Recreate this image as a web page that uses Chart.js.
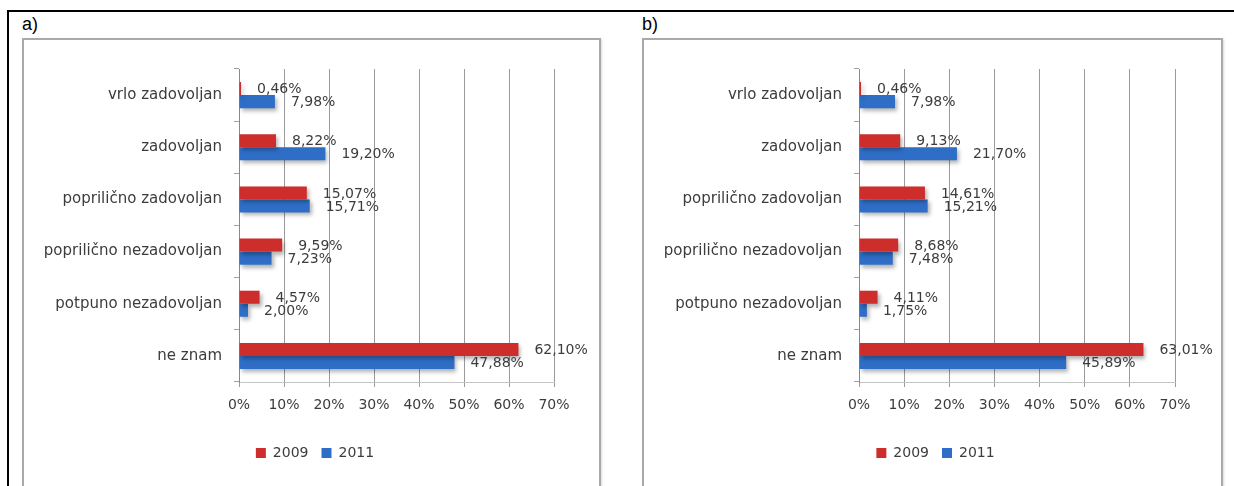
<!DOCTYPE html>
<html lang="hr">
<head>
    <meta charset="UTF-8">
    <title>Zadovoljstvo 2009 / 2011</title>
    <script src="https://cdn.jsdelivr.net/npm/chart.js"></script>
    <style>
        body {
            margin: 0;
            width: 1234px;
            height: 486px;
            background: #fff;
            position: relative;
            overflow: hidden;
            font-family: "Liberation Sans", Arial, sans-serif;
        }

        /* black frame: top and left edge only */
        .frame {
            position: absolute;
            left: 7px;
            top: 10px;
            width: 1240px;
            height: 490px;
            border-top: 2px solid #000;
            border-left: 2px solid #000;
        }

        .tag {
            position: absolute;
            top: 14px;
            font-size: 18px;
            color: #000;
        }

        .panel {
            position: absolute;
            top: 38px;
            height: 460px;
            border: 2px solid #a9a9a9;
            box-shadow: 1px 1px 2px rgba(0, 0, 0, 0.15);
            background: #fff;
            box-sizing: border-box;
        }

        canvas {
            position: absolute;
            top: 38px;
        }
    </style>
</head>
<body>
    <div class="frame"></div>
    <div class="tag" style="left: 22px;">a)</div>
    <div class="tag" style="left: 642px;">b)</div>

    <div class="panel" style="left: 22px; width: 579px;"></div>
    <div class="panel" style="left: 642px; width: 581px;"></div>

    <canvas id="chartA" width="579" height="448" style="left: 22px;"></canvas>
    <canvas id="chartB" width="580" height="448" style="left: 642px;"></canvas>

    <script>
        const categories = [
            "vrlo zadovoljan",
            "zadovoljan",
            "poprilično zadovoljan",
            "poprilično nezadovoljan",
            "potpuno nezadovoljan",
            "ne znam"
        ];
        const seriesNames = ["2009", "2011"];

        // panel a)
        const a2009 = [0.46, 8.22, 15.07, 9.59, 4.57, 62.10];
        const a2011 = [7.98, 19.20, 15.71, 7.23, 2.00, 47.88];

        // panel b)
        const b2009 = [0.46, 9.13, 14.61, 8.68, 4.11, 63.01];
        const b2011 = [7.98, 21.70, 15.21, 7.48, 1.75, 45.89];

        const xTicks = [0, 10, 20, 30, 40, 50, 60, 70];

        const RED = "#cd2d2b";
        const BLUE = "#2f6ec7";
        const TEXT = "#3c3c3c";
        const FONT = "DejaVu Sans";

        // soft shadow under bars, like the Excel original
        const barShadow = {
            id: "barShadow",
            beforeDatasetsDraw(chart) {
                const ctx = chart.ctx;
                ctx.save();
                ctx.shadowColor = "rgba(0, 0, 0, 0.3)";
                ctx.shadowOffsetX = 2;
                ctx.shadowOffsetY = 3;
                ctx.shadowBlur = 4;
            },
            afterDatasetsDraw(chart) {
                chart.ctx.restore();
            }
        };

        // value labels at the end of every bar
        const valueLabels = {
            id: "valueLabels",
            afterDatasetsDraw(chart) {
                const ctx = chart.ctx;
                ctx.save();
                ctx.font = "14px " + FONT;
                ctx.fillStyle = TEXT;
                ctx.textAlign = "left";
                ctx.textBaseline = "middle";
                chart.data.datasets.forEach((ds, i) => {
                    chart.getDatasetMeta(i).data.forEach((bar, j) => {
                        const txt = ds.data[j].toFixed(2).replace(".", ",") + "%";
                        ctx.fillText(txt, bar.x + 16, bar.y + 1);
                    });
                });
                ctx.restore();
            }
        };

        // the legend sits a bit right of the canvas centre in the original
        const legendShift = {
            id: "legendShift",
            afterLayout(chart) {
                const lg = chart.legend;
                lg.left += 27;
                lg.right += 27;
            }
        };

        function makeChart(id, d2009, d2011) {
            const ctx = document.getElementById(id).getContext("2d");
            return new Chart(ctx, {
                type: "bar",
                data: {
                    labels: categories,
                    datasets: [
                        { label: seriesNames[0], data: d2009, backgroundColor: RED },
                        { label: seriesNames[1], data: d2011, backgroundColor: BLUE }
                    ]
                },
                options: {
                    indexAxis: "y",
                    responsive: false,
                    animation: false,
                    devicePixelRatio: 1,
                    categoryPercentage: 0.5,
                    barPercentage: 1.0,
                    layout: {
                        padding: { left: 0, right: 47, top: 31, bottom: 16 }
                    },
                    scales: {
                        x: {
                            min: 0,
                            max: 70,
                            afterBuildTicks: (axis) => {
                                axis.ticks = xTicks.map(v => ({ value: v }));
                            },
                            afterFit: (axis) => { axis.height = 51; },
                            ticks: {
                                color: TEXT,
                                font: { family: FONT, size: 14 },
                                padding: 10,
                                callback: (v) => v + "%"
                            },
                            grid: {
                                color: "#9a9a9a",
                                tickLength: 5
                            },
                            border: { color: "#c4c4c4" }
                        },
                        y: {
                            afterFit: (axis) => { axis.width = 217; },
                            ticks: {
                                color: TEXT,
                                font: { family: FONT, size: 15 },
                                padding: 12
                            },
                            grid: {
                                drawOnChartArea: false,
                                color: "#a0a0a0",
                                tickLength: 5
                            },
                            border: { color: "#8a8a8a" }
                        }
                    },
                    plugins: {
                        legend: {
                            position: "bottom",
                            labels: {
                                boxWidth: 10,
                                boxHeight: 10,
                                padding: 13,
                                color: TEXT,
                                font: { family: FONT, size: 14 }
                            }
                        },
                        tooltip: { enabled: false }
                    }
                },
                plugins: [barShadow, valueLabels, legendShift]
            });
        }

        makeChart("chartA", a2009, a2011);
        makeChart("chartB", b2009, b2011);
    </script>
</body>
</html>
